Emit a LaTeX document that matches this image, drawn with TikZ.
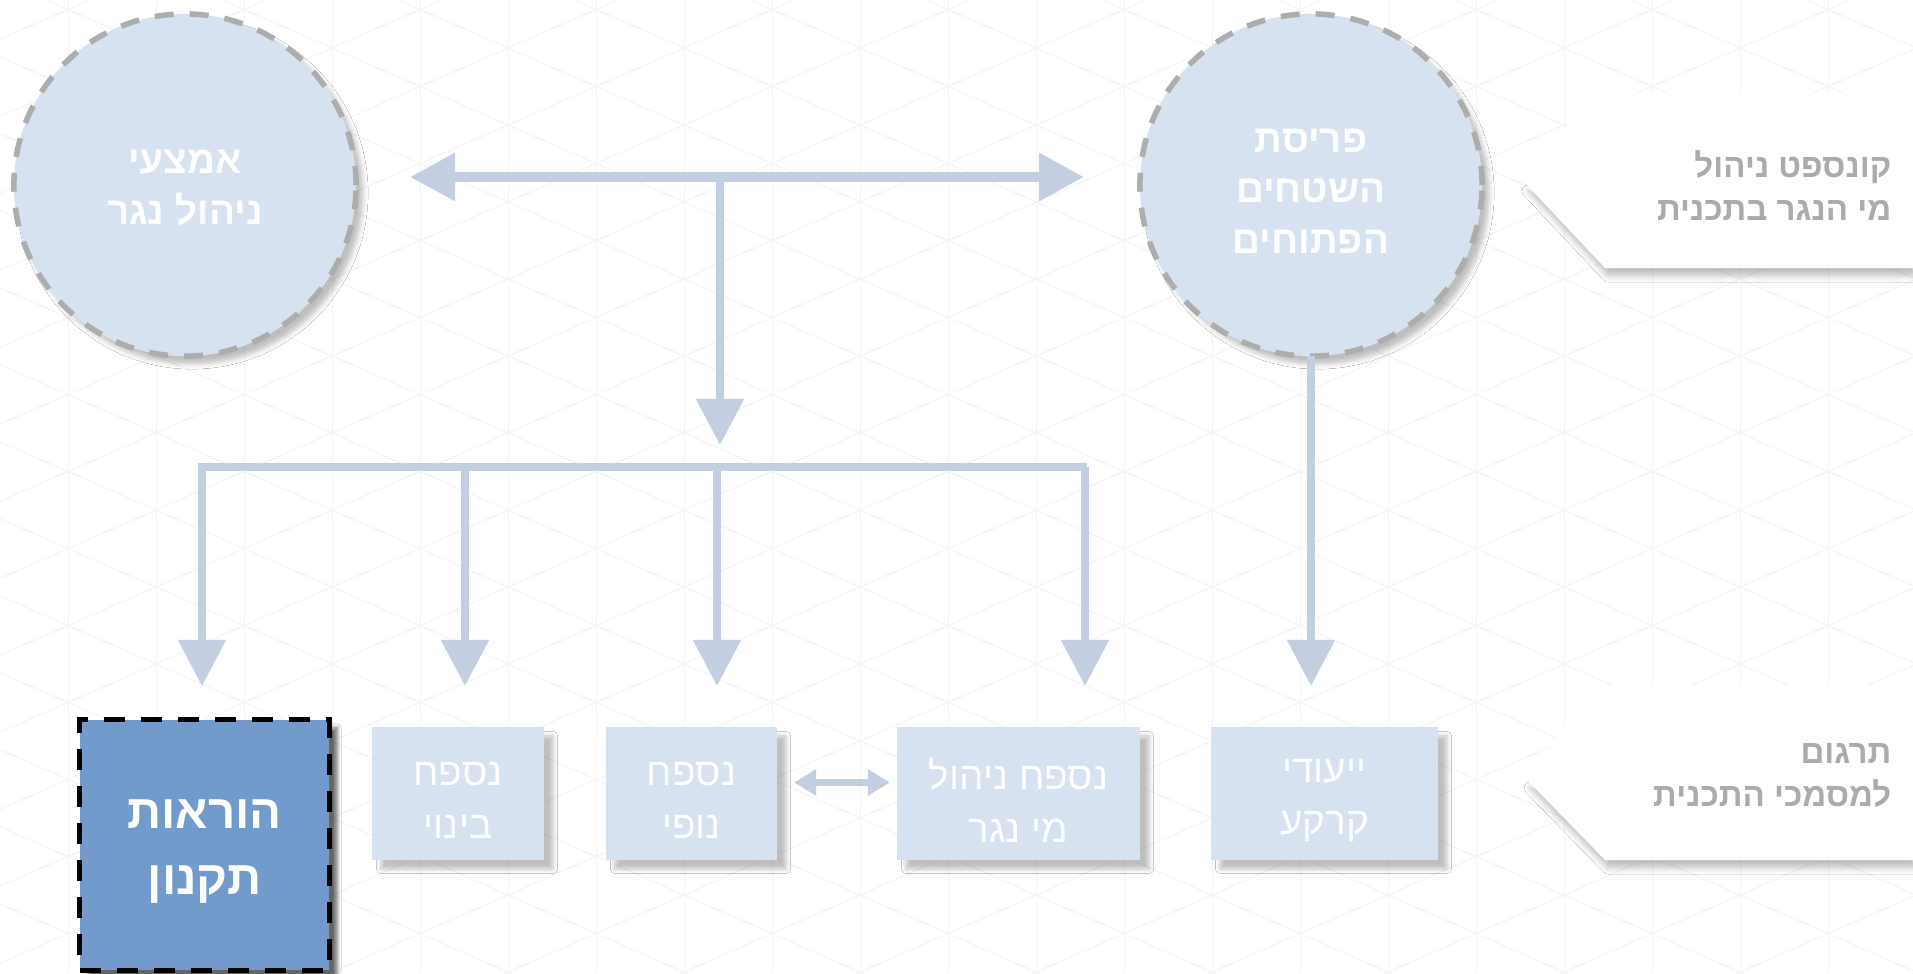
\documentclass[tikz,border=0pt]{standalone}
\usepackage{fontspec}
\newfontfamily\hebfont[Script=Hebrew, BoldFont={Liberation Sans Bold}]{Liberation Sans}
\TeXXeTstate=1
\usetikzlibrary{arrows.meta,shadows.blur,calc}
\newcommand{\heb}[1]{\beginR #1\endR}
\definecolor{circfill}{HTML}{D6E2EF}
\definecolor{circborder}{HTML}{ADADAD}
\definecolor{boxfill}{HTML}{D6E2EF}
\definecolor{bigfill}{HTML}{729BCC}
\definecolor{arrowc}{HTML}{C3CFE0}
\definecolor{labelc}{HTML}{ABABAB}
\definecolor{gridc}{HTML}{F3F3F3}
\tikzset{
  gridline/.style={draw=gridc, line width=0.1mm},
  circlenode/.style={circle, fill=circfill, draw=circborder, line width=0.55mm,
    dash pattern=on 1.9mm off 1.6mm, minimum size=3.42cm, inner sep=0, outer sep=0,
    blur shadow={shadow xshift=0.7mm, shadow yshift=-0.8mm, shadow blur radius=0.5mm, shadow opacity=25}},
  circtext/.style={align=center, text=white, inner sep=0,
    font=\hebfont\bfseries\fontsize{11}{14.4}\selectfont},
  smallbox/.style={rectangle, fill=boxfill, minimum height=1.33cm, inner sep=0, outer sep=0,
    blur shadow={shadow xshift=0.9mm, shadow yshift=-0.9mm, shadow blur radius=0.45mm, shadow opacity=25}},
  boxtext/.style={align=center, text=white, inner sep=0,
    font=\hebfont\fontsize{11}{15}\selectfont},
  bigbox/.style={rectangle, fill=bigfill, draw=black, line width=0.5mm,
    dash pattern=on 2.1mm off 1.6mm, minimum width=2.49cm, minimum height=2.5cm,
    inner sep=0, outer sep=0,
    blur shadow={shadow xshift=0.8mm, shadow yshift=-0.8mm, shadow blur radius=0.4mm, shadow opacity=60}},
  bigtext/.style={align=center, text=white, inner sep=0,
    font=\hebfont\bfseries\fontsize{13.5}{18.8}\selectfont},
  bannershadow/.style={blur shadow={shadow xshift=0.3mm, shadow yshift=-0.8mm, shadow blur radius=0.6mm, shadow opacity=25}},
  bannertext/.style={align=right, text=labelc, anchor=east, inner sep=0,
    font=\hebfont\bfseries\fontsize{9.4}{12.2}\selectfont},
  bigarrow/.style={draw=arrowc, line width=0.95mm, {Triangle[length=4.5mm,width=4.6mm]}-{Triangle[length=4.5mm,width=4.6mm]}},
  flow/.style={draw=arrowc, line width=0.8mm, -{Triangle[length=4.6mm,width=4.6mm]}},
  busline/.style={draw=arrowc, line width=0.85mm},
  smallarrow/.style={draw=arrowc, line width=0.75mm, {Triangle[length=2.2mm,width=2.5mm]}-{Triangle[length=2.2mm,width=2.5mm]}}
}
\begin{document}
\begin{tikzpicture}[x=0.01cm,y=-0.01cm]
\useasboundingbox (0,0) rectangle (1913,973);
\fill[white] (0,0) rectangle (1913,973);
% background grid
\begin{scope}
\clip (0,0) rectangle (1913,973);
\foreach \i in {0,...,20} \draw[gridline] ({68+88*\i},0) -- ({68+88*\i},973);
\foreach \k in {-15,...,9} \draw[gridline] (0,{287.75+77*\k}) -- (1913,{1124.7+77*\k});
\foreach \k in {-8,...,16} \draw[gridline] (0,{578.25+77*\k}) -- (1913,{-258.7+77*\k});
\end{scope}
% banners
\path[bannershadow] (1913,183) -- (1525,183) -- (1605,268) -- (1913,268) -- cycle;
\fill[white] (1913,93) -- (1592,93) -- (1525,183) -- (1605,268) -- (1913,268) -- cycle;
\path[bannershadow] (1913,780) -- (1527,780) -- (1605,860) -- (1913,860) -- cycle;
\fill[white] (1913,685) -- (1593,685) -- (1527,780) -- (1605,860) -- (1913,860) -- cycle;
\node[bannertext] (lab1) at (1892,186) {\heb{קונספט ניהול}\\\heb{מי הנגר בתכנית}};
\node[bannertext] (lab2) at (1892,775) {\heb{תרגום}\\\heb{למסמכי התכנית}};
% circles
\node[circlenode] (circL) at (185,185) {};
\node[circtext] (circLtxt) at ([yshift=-0.3mm]circL.center) {\heb{אמצעי}\\\heb{ניהול נגר}};
\node[circlenode] (circR) at (1311,185) {};
\node[circtext] (circRtxt) at ([yshift=-0.6mm]circR.center) {\heb{פריסת}\\\heb{השטחים}\\\heb{הפתוחים}};
% boxes
\node[bigbox] (takanon) at (204.5,845) {};
\node[bigtext] (takanontxt) at ([yshift=-0.7mm]takanon.center) {\heb{הוראות}\\\heb{תקנון}};
\node[smallbox, minimum width=1.72cm] (binui) at (458,793.5) {};
\node[boxtext] (binuitxt) at ([yshift=-0.7mm]binui.center) {\heb{נספח}\\\heb{בינוי}};
\node[smallbox, minimum width=1.71cm] (nofi) at (691.5,793.5) {};
\node[boxtext] (nofitxt) at ([yshift=-0.7mm]nofi.center) {\heb{נספח}\\\heb{נופי}};
\node[smallbox, minimum width=2.43cm] (nihul) at (1018.5,793.5) {};
\node[boxtext] (nihultxt) at ([yshift=-0.7mm]nihul.center) {\heb{נספח ניהול}\\\heb{מי נגר}};
\node[smallbox, minimum width=2.27cm] (yeudei) at (1324.5,793.5) {};
\node[boxtext] (yeudeitxt) at ([yshift=-0.7mm]yeudei.center) {\heb{ייעודי}\\\heb{קרקע}};
% connectors
\coordinate (tm) at (720,177);
\coordinate (busin) at (720,445);
\coordinate (busL) at (198,467);
\coordinate (busR) at (1087,467);
\draw[bigarrow, shorten <=5.4mm, shorten >=5.6mm] ([yshift=0.8mm]circL.east) -- ([yshift=0.8mm]circR.west);
\draw[flow] (tm) -- (busin);
\draw[busline] (busL) -- (busR);
\foreach \x [count=\n] in {202,465,717,1085} {
  \coordinate (d\n) at (\x,467);
  \coordinate (t\n) at (\x,686);
  \draw[flow] (d\n) -- (t\n);
}
\coordinate (tR) at (1311,686);
\draw[flow] (circR.south) -- (tR);
\draw[smallarrow, shorten <=1.7mm, shorten >=0.7mm] ([yshift=1.1mm]nofi.east) -- ([yshift=1.1mm]nihul.west);
\end{tikzpicture}
\end{document}
